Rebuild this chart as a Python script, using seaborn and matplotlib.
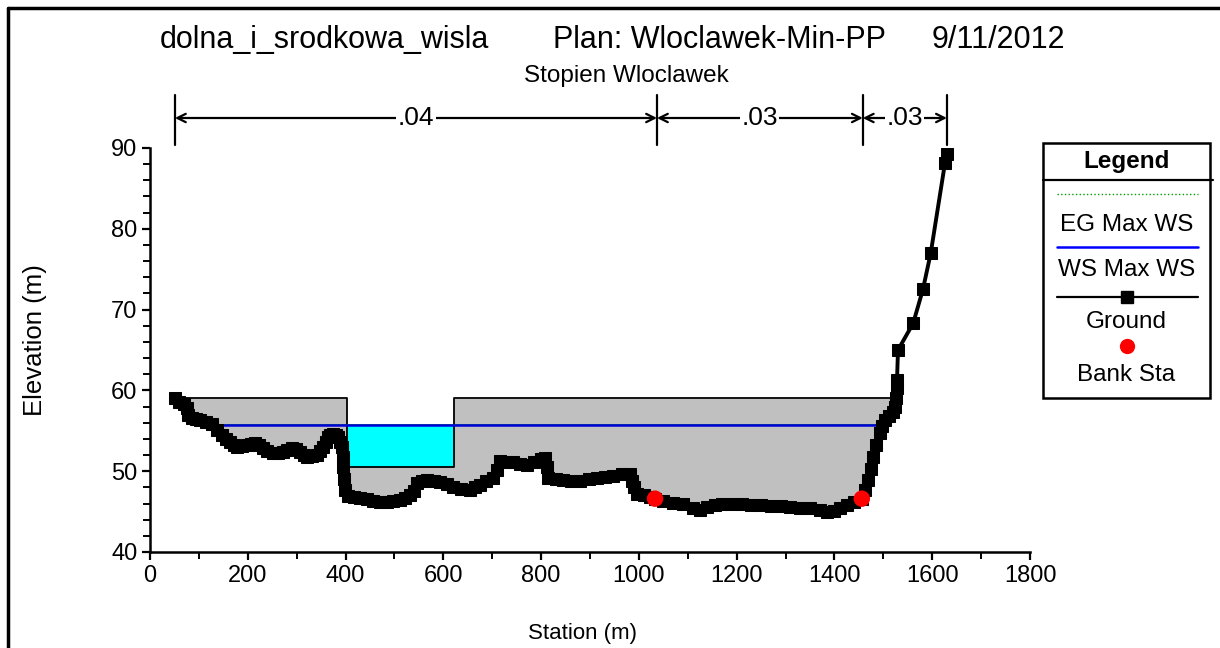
import numpy as np
import matplotlib
matplotlib.use("Agg")
import matplotlib.pyplot as plt
import seaborn as sns
from matplotlib.lines import Line2D
from matplotlib.patches import Rectangle
from matplotlib.ticker import MultipleLocator

# ---------------- data ----------------
station = [51, 60, 70, 75, 78, 85, 95, 102, 115, 127, 137, 147, 155, 164, 172, 178,
           188, 198, 207, 215, 223, 231, 240, 252, 262, 272, 281, 290, 298, 307, 314,
           321, 331, 341, 348, 354, 359, 364, 369, 374, 380, 385, 389, 392, 394, 395,
           397, 399, 405, 418, 430, 443, 456, 470, 484, 497, 511, 522, 532, 540, 546,
           556, 566, 580, 593, 607, 620, 637, 655, 665, 675, 688, 702, 710, 716, 730,
           743, 757, 771, 785, 800, 808, 812, 815, 830, 845, 862, 880, 897, 914, 930,
           947, 965, 982, 986, 990, 996, 1010, 1022, 1033, 1050, 1070, 1090, 1110,
           1125, 1140, 1155, 1170, 1190, 1210, 1230, 1250, 1270, 1290, 1310, 1329,
           1350, 1370, 1385, 1400, 1412, 1425, 1440, 1456, 1463, 1469, 1474, 1479,
           1486, 1493, 1498, 1503, 1512, 1520, 1524, 1526, 1527, 1528, 1530, 1561,
           1581, 1597, 1626, 1630]
elevation = [59.0, 58.6, 58.3, 57.8, 57.0, 56.6, 56.4, 56.3, 56.1, 55.9, 55.1, 54.5,
             54.0, 53.6, 53.2, 53.0, 53.1, 53.2, 53.4, 53.5, 53.2, 52.9, 52.5, 52.2,
             52.3, 52.4, 52.6, 52.9, 52.7, 52.4, 52.0, 51.8, 51.9, 52.0, 52.5, 53.0,
             53.6, 54.2, 54.5, 54.6, 54.5, 54.2, 53.6, 53.0, 51.8, 50.5, 49.0, 47.7,
             46.9, 46.8, 46.7, 46.5, 46.3, 46.2, 46.2, 46.3, 46.4, 46.7, 47.0, 47.6,
             48.5, 48.8, 48.9, 48.8, 48.7, 48.4, 48.0, 47.8, 47.7, 48.0, 48.3, 48.8,
             49.2, 50.2, 51.3, 51.2, 51.1, 50.9, 50.8, 51.2, 51.5, 51.6, 50.5, 49.2,
             49.0, 48.9, 48.8, 48.8, 49.0, 49.1, 49.3, 49.4, 49.6, 49.7, 48.8, 48.0,
             47.2, 47.0, 46.8, 46.6, 46.3, 46.1, 45.9, 45.5, 45.2, 45.6, 45.8, 45.9,
             46.0, 45.9, 45.8, 45.8, 45.7, 45.7, 45.6, 45.5, 45.4, 45.2, 45.0, 45.1,
             45.4, 45.8, 46.2, 46.6, 47.7, 48.9, 50.3, 51.8, 53.2, 54.7, 55.6, 56.3,
             56.8, 57.3, 58.0, 59.0, 60.3, 61.3, 65.0, 68.3, 72.5, 77.0, 88.1, 89.2]
bank_station = [1033, 1456]
bank_elevation = [46.6, 46.6]
ws_station = [123, 1495]
ws_elevation = 55.7
eg_elevation = 55.86
deck_station = [62, 1526]
deck_elevation = 59.0
gate_station = [402, 622]
gate_sill = 50.5
n_station = [51, 1037, 1458, 1630]
n_values = [".04", ".03", ".03"]
title_parts = ["dolna_i_srodkowa_wisla", "Plan: Wloclawek-Min-PP", "9/11/2012"]
subtitle = "Stopien Wloclawek"
legend_labels = ["EG Max WS", "WS Max WS", "Ground", "Bank Sta"]

# ---------------- style ----------------
sns.set_style("ticks")
plt.rcParams["font.family"] = ["Liberation Sans", "DejaVu Sans"]
plt.rcParams["text.color"] = "black"
plt.rcParams["axes.labelcolor"] = "black"
plt.rcParams["xtick.color"] = "black"
plt.rcParams["ytick.color"] = "black"

W, H = 1220, 648
fig = plt.figure(figsize=(W / 100, H / 100), dpi=100)
ax = fig.add_axes([150 / W, (H - 552) / H, 880 / W, 404 / H])

st = np.array(station, dtype=float)
el = np.array(elevation, dtype=float)

# structure (gray) and gate opening
ax.fill_between(st, el, deck_elevation, where=el <= deck_elevation, interpolate=True,
                color="#c0c0c0", lw=0, zorder=1)
ax.fill_between(gate_station, gate_sill, deck_elevation + 0.2, color="white", lw=0, zorder=1.5)
ax.fill_between(gate_station, gate_sill, ws_elevation, color="#00ffff", lw=0, zorder=1.6)
ax.plot([deck_station[0], gate_station[0], gate_station[0], gate_station[1], gate_station[1],
         deck_station[1]],
        [deck_elevation, deck_elevation, gate_sill, gate_sill, deck_elevation, deck_elevation],
        color="black", lw=1.3, zorder=2)

# water surface / energy grade
ax.plot(ws_station, [eg_elevation] * 2, color="#009000", lw=0.6, zorder=2.9)
ax.plot(ws_station, [ws_elevation] * 2, color="#0000dd", lw=1.8, zorder=3)

# ground
sns.lineplot(x=st, y=el, ax=ax, color="black", lw=2.8, marker="s", markersize=9.3,
             markeredgecolor="black", estimator=None, sort=False, legend=False, zorder=4)
# bank stations
sns.scatterplot(x=bank_station, y=bank_elevation, ax=ax, color="red", s=140,
                edgecolor="none", legend=False, zorder=5)

ax.set_xlim(0, 1800)
ax.set_ylim(40, 90)
ax.xaxis.set_major_locator(MultipleLocator(200))
ax.xaxis.set_minor_locator(MultipleLocator(100))
ax.yaxis.set_major_locator(MultipleLocator(10))
ax.yaxis.set_minor_locator(MultipleLocator(2))
sns.despine(ax=ax)
for sp in ["left", "bottom"]:
    ax.spines[sp].set_linewidth(1.8)
    ax.spines[sp].set_color("black")
ax.tick_params(which="major", direction="out", length=6, width=1.6, labelsize=17,
               color="black", pad=3)
ax.tick_params(which="minor", direction="out", length=5, width=1.4, color="black")

ax.set_xlabel("Station (m)", fontsize=16, va="center")
ax.set_ylabel("Elevation (m)", fontsize=18.5, va="center")
ax.xaxis.set_label_coords((582 - 150) / 880, (552 - 633) / 404)
ax.yaxis.set_label_coords((35 - 150) / 880, (552 - 340) / 404)

# Manning's n annotations
tr = ax.get_xaxis_transform()
y_lo, y_hi, y_arr = (552 - 145) / 404, (552 - 95) / 404, (552 - 118) / 404
for s in n_station:
    ax.plot([s, s], [y_lo, y_hi], transform=tr, color="black", lw=1.6, clip_on=False)
for i, lab in enumerate(n_values):
    a, b = n_station[i], n_station[i + 1]
    ax.annotate("", xy=(b, y_arr), xytext=(a, y_arr), xycoords=tr, textcoords=tr,
                arrowprops=dict(arrowstyle="<->", lw=1.6, color="black",
                                shrinkA=0, shrinkB=0, mutation_scale=15),
                annotation_clip=False)
    ax.text((a + b) / 2, y_arr, lab, transform=tr, ha="center", va="center", fontsize=19,
            bbox=dict(facecolor="white", edgecolor="none", pad=1.0), clip_on=False, zorder=6)

# titles
fig.text(160 / W, 1 - 40 / H, title_parts[0], fontsize=22, ha="left", va="center")
fig.text(553 / W, 1 - 40 / H, title_parts[1], fontsize=22, ha="left", va="center")
fig.text(1065 / W, 1 - 40 / H, title_parts[2], fontsize=22, ha="right", va="center")
fig.text(626 / W, 1 - 76 / H, subtitle, fontsize=17.5, ha="center", va="center")

# figure frame (left and top edges)
fig.add_artist(Line2D([8 / W, 8 / W], [0, 1 - 8 / H], transform=fig.transFigure,
                      color="black", lw=2.5))
fig.add_artist(Line2D([8 / W, 1], [1 - 8 / H, 1 - 8 / H], transform=fig.transFigure,
                      color="black", lw=2.5))

# legend box
lax = fig.add_axes([1043 / W, (H - 398) / H, 167 / W, 255 / H])
lax.set_xlim(0, 1)
lax.set_ylim(0, 1)
lax.axis("off")
lax.add_patch(Rectangle((0, 0), 1, 1, transform=lax.transAxes, fill=False, lw=1.8,
                        edgecolor="black", clip_on=False))
lax.plot([0, 1.02], [0.855, 0.855], color="black", lw=1.6, clip_on=False)
lax.text(0.5, 0.927, "Legend", fontsize=17.5, fontweight="bold", ha="center", va="center")
lax.plot([0.084, 0.928], [0.80, 0.80], color="#00a000", lw=1, ls=":")
lax.text(0.5, 0.678, legend_labels[0], fontsize=17.5, ha="center", va="center")
lax.plot([0.084, 0.928], [0.592, 0.592], color="#0000ff", lw=1.8)
lax.text(0.5, 0.502, legend_labels[1], fontsize=17.5, ha="center", va="center")
lax.plot([0.084, 0.928], [0.396, 0.396], color="black", lw=1.6)
lax.plot([0.5], [0.396], color="black", marker="s", markersize=8)
lax.text(0.5, 0.298, legend_labels[2], fontsize=17.5, ha="center", va="center")
lax.plot([0.5], [0.204], color="red", marker="o", markersize=11, markeredgecolor="none")
lax.text(0.5, 0.09, legend_labels[3], fontsize=17.5, ha="center", va="center")

fig.savefig("out.png", dpi=100)
